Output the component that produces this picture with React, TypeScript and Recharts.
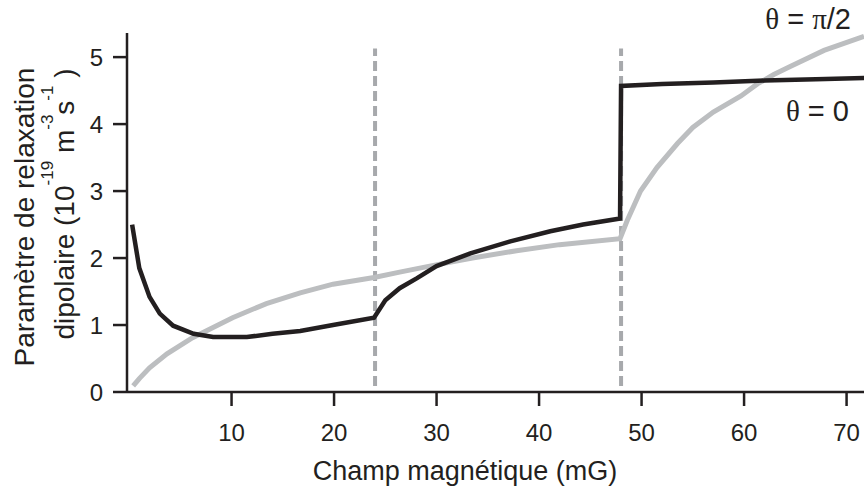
import { LineChart, Line, XAxis, YAxis, ReferenceLine } from 'recharts';

// champ magnétique (mG) vs paramètre de relaxation (10^-19 m^-3 s^-1)
const thetaZero = [
  { x: 0.3, y: 2.5 }, { x: 1.0, y: 1.85 }, { x: 2.0, y: 1.42 }, { x: 3.0, y: 1.17 },
  { x: 4.3, y: 0.99 }, { x: 6.3, y: 0.87 }, { x: 8.2, y: 0.82 }, { x: 11.5, y: 0.82 },
  { x: 14.0, y: 0.87 }, { x: 16.7, y: 0.91 }, { x: 19.9, y: 1.0 }, { x: 23.9, y: 1.11 },
  { x: 25.0, y: 1.37 }, { x: 26.4, y: 1.55 }, { x: 28.1, y: 1.7 }, { x: 30.0, y: 1.88 },
  { x: 33.3, y: 2.07 }, { x: 37.2, y: 2.25 }, { x: 41.1, y: 2.4 }, { x: 44.3, y: 2.5 },
  { x: 47.9, y: 2.59 }, { x: 48.0, y: 4.57 }, { x: 52.0, y: 4.6 }, { x: 57.0, y: 4.62 },
  { x: 62.0, y: 4.65 }, { x: 67.0, y: 4.67 }, { x: 72.0, y: 4.69 },
];

const thetaHalfPi = [
  { x: 0.4, y: 0.09 }, { x: 1.0, y: 0.2 }, { x: 2.0, y: 0.36 }, { x: 3.7, y: 0.57 },
  { x: 6.2, y: 0.81 }, { x: 10.1, y: 1.11 }, { x: 13.4, y: 1.32 }, { x: 16.7, y: 1.48 },
  { x: 19.9, y: 1.61 }, { x: 23.9, y: 1.71 }, { x: 26.4, y: 1.79 }, { x: 29.7, y: 1.89 },
  { x: 33.5, y: 2.0 }, { x: 37.8, y: 2.11 }, { x: 42.0, y: 2.2 }, { x: 47.9, y: 2.29 },
  { x: 48.6, y: 2.56 }, { x: 49.9, y: 3.0 }, { x: 51.5, y: 3.35 }, { x: 53.5, y: 3.71 },
  { x: 55.0, y: 3.95 }, { x: 57.0, y: 4.18 }, { x: 59.7, y: 4.42 }, { x: 61.3, y: 4.6 },
  { x: 62.9, y: 4.74 }, { x: 64.5, y: 4.86 }, { x: 67.8, y: 5.1 }, { x: 71.7, y: 5.31 },
];

const xTicks = [10, 20, 30, 40, 50, 60, 70];
const yTicks = [0, 1, 2, 3, 4, 5];
const transitions = [24, 48];

const ink = '#231f20';
const sans = '"Liberation Sans", Arial, sans-serif';
const serif = '"Liberation Serif", "Times New Roman", serif';

export default function App() {
  return (
    <div style={{ position: 'absolute', left: 0, top: 0, background: '#fff' }}>
      <LineChart width={864} height={489} margin={{ top: 33, right: 0, bottom: 0, left: 0 }}>
        <XAxis
          type="number"
          dataKey="x"
          domain={[-0.2, 71.7]}
          ticks={xTicks}
          allowDataOverflow
          height={97}
          tickSize={14}
          tickMargin={18}
          axisLine={{ stroke: ink, strokeWidth: 2.5 }}
          tickLine={{ stroke: ink, strokeWidth: 2.5 }}
          tick={{ fill: ink, fontSize: 24, fontFamily: sans }}
        />
        <YAxis
          type="number"
          dataKey="y"
          domain={[0, 5.36]}
          ticks={yTicks}
          allowDataOverflow
          width={127}
          tickSize={14}
          tickMargin={10}
          axisLine={{ stroke: ink, strokeWidth: 2.5 }}
          tickLine={{ stroke: ink, strokeWidth: 2.5 }}
          tick={{ fill: ink, fontSize: 24, fontFamily: sans }}
        />
        {transitions.map((t) => (
          <ReferenceLine
            key={t}
            segment={[{ x: t, y: 0.09 }, { x: t, y: 5.13 }]}
            stroke="#a7a9ac"
            strokeWidth={4}
            strokeDasharray="10 5"
          />
        ))}
        <Line
          data={thetaHalfPi}
          dataKey="y"
          type="linear"
          stroke="#bcbec0"
          strokeWidth={5}
          dot={false}
          isAnimationActive={false}
        />
        <Line
          data={thetaZero}
          dataKey="y"
          type="linear"
          stroke={ink}
          strokeWidth={4.5}
          strokeLinejoin="miter"
          dot={false}
          isAnimationActive={false}
        />
        <text x={851} y={29} textAnchor="end" fontSize={29} fill={ink} fontFamily={sans}>
          <tspan fontFamily={serif}>θ</tspan> = <tspan fontFamily={serif}>π</tspan>/2
        </text>
        <text x={849} y={121} textAnchor="end" fontSize={29} fill={ink} fontFamily={sans}>
          <tspan fontFamily={serif}>θ</tspan> = 0
        </text>
        <text x={465} y={480} textAnchor="middle" fontSize={27} fill={ink} fontFamily={sans}>
          Champ magnétique (mG)
        </text>
        <text
          x={34}
          y={217}
          transform="rotate(-90, 34, 217)"
          textAnchor="middle"
          fontSize={28}
          fill={ink}
          fontFamily={sans}
        >
          Paramètre de relaxation
        </text>
        <text
          x={74}
          y={204}
          transform="rotate(-90, 74, 204)"
          textAnchor="middle"
          fontSize={28}
          fill={ink}
          fontFamily={sans}
        >
          dipolaire (10
          <tspan fontSize={17} dy={-21}>-19</tspan>
          <tspan dy={21}> m</tspan>
          <tspan fontSize={17} dy={-21}>-3</tspan>
          <tspan dy={21}>s</tspan>
          <tspan fontSize={17} dy={-21}>-1</tspan>
          <tspan dy={21}> )</tspan>
        </text>
      </LineChart>
    </div>
  );
}
